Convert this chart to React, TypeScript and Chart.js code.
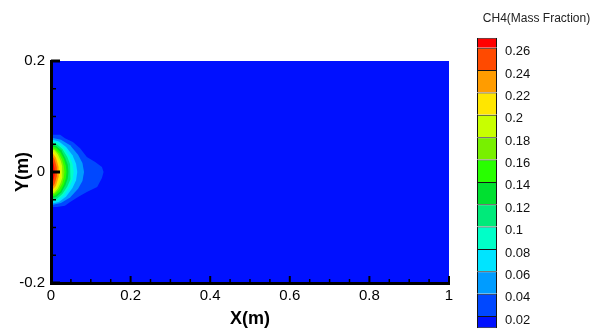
import React, { useEffect, useRef } from 'react';
import { Chart, registerables } from 'chart.js';

Chart.register(...registerables);

// ---------- data ----------
const xTickValues = [0, 0.05, 0.1, 0.15, 0.2, 0.25, 0.3, 0.35, 0.4, 0.45, 0.5, 0.55, 0.6, 0.65, 0.7, 0.75, 0.8, 0.85, 0.9, 0.95, 1];
const xLabelValues = [0, 0.2, 0.4, 0.6, 0.8, 1];
const yTickValues = [-0.2, -0.15, -0.1, -0.05, 0, 0.05, 0.1, 0.15, 0.2];
const yLabelValues = [-0.2, 0, 0.2];

// colour bar: band edges and colours (lowest band first)
const cbEdges = [0.009, 0.02, 0.04, 0.06, 0.08, 0.1, 0.12, 0.14, 0.16, 0.18, 0.2, 0.22, 0.24, 0.26, 0.269];
const cbTickValues = [0.02, 0.04, 0.06, 0.08, 0.1, 0.12, 0.14, 0.16, 0.18, 0.2, 0.22, 0.24, 0.26];
const bandColors = [
  '#0010ff', '#0048ff', '#009cff', '#00e4ff', '#00ffc8', '#00ea7a', '#00e030',
  '#28ff00', '#78f000', '#c8ff00', '#ffe600', '#ff9c00', '#ff4a00', '#ff0000',
];

// contour level boundaries (x [m], y [m])
const contourLevels = [0.02, 0.04, 0.06, 0.08, 0.1, 0.12, 0.14, 0.16, 0.18, 0.2, 0.22, 0.24, 0.26];
const c002 = [[0, 0.067], [0.023, 0.067], [0.035, 0.061], [0.055, 0.054], [0.073, 0.043], [0.09, 0.027], [0.111, 0.018], [0.128, 0.009], [0.132, 0], [0.128, -0.011], [0.116, -0.027], [0.09, -0.036], [0.068, -0.045], [0.048, -0.054], [0.035, -0.061], [0.015, -0.063], [0, -0.063]];
const c004 = [[0, 0.062], [0.025, 0.058], [0.048, 0.048], [0.068, 0.031], [0.079, 0.016], [0.083, 0], [0.079, -0.016], [0.068, -0.03], [0.048, -0.046], [0.025, -0.056], [0, -0.06]];
const c006 = [[0, 0.059], [0.02, 0.055], [0.038, 0.045], [0.054, 0.03], [0.063, 0.015], [0.066, 0], [0.063, -0.015], [0.054, -0.029], [0.038, -0.044], [0.02, -0.054], [0, -0.057]];
const c008 = [[0, 0.056], [0.017, 0.053], [0.033, 0.043], [0.047, 0.028], [0.054, 0.015], [0.057, 0], [0.054, -0.014], [0.047, -0.027], [0.033, -0.042], [0.017, -0.051], [0, -0.054]];
const c010 = [[0, 0.053], [0.015, 0.05], [0.029, 0.041], [0.041, 0.027], [0.048, 0.014], [0.05, 0], [0.048, -0.013], [0.041, -0.026], [0.029, -0.039], [0.015, -0.048], [0, -0.051]];
const c012 = [[0, 0.05], [0.013, 0.047], [0.026, 0.039], [0.036, 0.025], [0.042, 0.013], [0.044, 0], [0.042, -0.012], [0.036, -0.024], [0.026, -0.037], [0.013, -0.045], [0, -0.048]];
const c014 = [[0, 0.047], [0.012, 0.044], [0.023, 0.036], [0.032, 0.024], [0.037, 0.012], [0.039, 0], [0.037, -0.012], [0.032, -0.023], [0.023, -0.035], [0.012, -0.042], [0, -0.045]];
const c016 = [[0, 0.044], [0.01, 0.041], [0.02, 0.034], [0.028, 0.022], [0.032, 0.011], [0.034, 0], [0.032, -0.011], [0.028, -0.021], [0.02, -0.032], [0.01, -0.039], [0, -0.042]];
const c018 = [[0, 0.041], [0.009, 0.039], [0.017, 0.032], [0.024, 0.021], [0.028, 0.011], [0.029, 0], [0.028, -0.01], [0.024, -0.02], [0.017, -0.03], [0.009, -0.037], [0, -0.039]];
const c020 = [[0, 0.038], [0.0075, 0.036], [0.0145, 0.029], [0.0205, 0.019], [0.024, 0.01], [0.025, 0], [0.024, -0.009], [0.0205, -0.018], [0.0145, -0.028], [0.0075, -0.034], [0, -0.036]];
const c022 = [[0, 0.034], [0.006, 0.032], [0.012, 0.026], [0.016, 0.017], [0.019, 0.009], [0.02, 0], [0.019, -0.008], [0.016, -0.016], [0.012, -0.025], [0.006, -0.03], [0, -0.032]];
const c024 = [[0, 0.03], [0.0045, 0.028], [0.0087, 0.023], [0.012, 0.015], [0.0145, 0.008], [0.015, 0], [0.0145, -0.007], [0.012, -0.014], [0.0087, -0.022], [0.0045, -0.026], [0, -0.028]];
const c026 = [[0, 0.024], [0.0027, 0.023], [0.0052, 0.018], [0.0074, 0.012], [0.0087, 0.006], [0.009, 0], [0.0087, -0.006], [0.0074, -0.011], [0.0052, -0.017], [0.0027, -0.021], [0, -0.022]];
const contours = [c002, c004, c006, c008, c010, c012, c014, c016, c018, c020, c022, c024, c026];

// ---------- styles ----------
const SANS = "'Liberation Sans', Arial, sans-serif";
const PLOT_BG = bandColors[0];

const isIn = (v: number, list: number[]) => list.some((l) => Math.abs(l - v) < 1e-9);
const fmt = (v: number) => String(Number(v.toFixed(3)));

const plotBgPlugin = {
  id: 'plotBg',
  beforeDatasetsDraw(chart: any) {
    const { ctx, chartArea } = chart;
    ctx.save();
    ctx.fillStyle = PLOT_BG;
    ctx.fillRect(chartArea.left, chartArea.top, chartArea.right - chartArea.left, chartArea.bottom - chartArea.top);
    ctx.restore();
  },
};

const insideTicksPlugin = {
  id: 'insideTicks',
  afterDatasetsDraw(chart: any) {
    const { ctx, chartArea, scales } = chart;
    ctx.save();
    ctx.strokeStyle = '#000';
    scales.x.ticks.forEach((t: any) => {
      const px = scales.x.getPixelForValue(t.value);
      const major = isIn(t.value, xLabelValues);
      ctx.lineWidth = major ? 2 : 1.5;
      ctx.beginPath();
      ctx.moveTo(px, chartArea.bottom);
      ctx.lineTo(px, chartArea.bottom - (major ? 7 : 4));
      ctx.stroke();
    });
    scales.y.ticks.forEach((t: any) => {
      const py = scales.y.getPixelForValue(t.value);
      const major = isIn(t.value, yLabelValues);
      ctx.lineWidth = major ? 3 : 1.5;
      ctx.beginPath();
      ctx.moveTo(chartArea.left, py);
      ctx.lineTo(chartArea.left + (major ? 9 : 5), py);
      ctx.stroke();
    });
    ctx.restore();
  },
};

export default function App() {
  const mainRef = useRef<HTMLCanvasElement>(null);
  const barRef = useRef<HTMLCanvasElement>(null);

  useEffect(() => {
    const main = new Chart(mainRef.current as HTMLCanvasElement, {
      type: 'scatter',
      data: {
        datasets: contourLevels.map((lvl, i) => ({
          label: 'CH4 >= ' + lvl,
          data: contours[i].map(([x, y]) => ({ x, y })),
          showLine: true,
          fill: 'shape',
          backgroundColor: bandColors[i + 1],
          borderColor: 'transparent',
          borderWidth: 0,
          pointRadius: 0,
          tension: 0,
          order: 100 - i,
        })),
      },
      options: {
        animation: false,
        responsive: false,
        events: [],
        layout: { padding: { left: 0, top: 61, right: 11, bottom: 0 } },
        plugins: { legend: { display: false }, tooltip: { enabled: false } },
        scales: {
          x: {
            type: 'linear',
            min: 0,
            max: 1,
            afterBuildTicks: (s: any) => { s.ticks = xTickValues.map((v) => ({ value: v })); },
            afterFit: (s: any) => { s.height = 50; s.paddingLeft = 0; s.paddingRight = 0; },
            grid: { display: false, drawTicks: false },
            border: { display: true, color: '#000', width: 3, z: 1 },
            ticks: {
              autoSkip: false,
              maxRotation: 0,
              padding: 4,
              color: '#000',
              font: { family: SANS, size: 15 },
              callback: (v: any) => (isIn(Number(v), xLabelValues) ? fmt(Number(v)) : ''),
            },
            title: {
              display: true,
              text: 'X(m)',
              color: '#000',
              font: { family: SANS, size: 18, weight: 'bold' },
              padding: { top: 0, bottom: 3 },
            },
          },
          y: {
            type: 'linear',
            min: -0.2,
            max: 0.2,
            afterBuildTicks: (s: any) => { s.ticks = yTickValues.map((v) => ({ value: v })); },
            afterFit: (s: any) => { s.width = 51; s.paddingTop = 0; s.paddingBottom = 0; },
            grid: { display: false, drawTicks: false },
            border: { display: true, color: '#000', width: 3, z: 1 },
            ticks: {
              autoSkip: false,
              padding: 6,
              color: '#000',
              font: { family: SANS, size: 15 },
              callback: (v: any) => (isIn(Number(v), yLabelValues) ? fmt(Number(v)) : ''),
            },
            title: {
              display: true,
              text: 'Y(m)',
              color: '#000',
              font: { family: SANS, size: 18, weight: 'bold' },
              padding: { top: 12.5, bottom: 0 },
            },
          },
        },
      } as any,
      plugins: [plotBgPlugin, insideTicksPlugin],
    });

    const bar = new Chart(barRef.current as HTMLCanvasElement, {
      type: 'bar',
      data: {
        labels: [''],
        datasets: bandColors.map((c, i) => ({
          label: fmt(cbEdges[i]) + '-' + fmt(cbEdges[i + 1]),
          data: [[cbEdges[i], cbEdges[i + 1]]],
          backgroundColor: c,
          borderColor: '#151515',
          borderWidth: { top: 1, left: 1, right: 1, bottom: i === 0 ? 1 : 0 },
          borderSkipped: false,
          barPercentage: 1,
          categoryPercentage: 1,
          grouped: false,
          inflateAmount: 0,
        })),
      },
      options: {
        animation: false,
        responsive: false,
        events: [],
        layout: { padding: { left: 2, right: 0, top: 0, bottom: 4.7 } },
        plugins: {
          legend: { display: false },
          tooltip: { enabled: false },
          title: {
            display: true,
            text: 'CH4(Mass Fraction)',
            color: '#222',
            font: { family: SANS, size: 12, weight: 'normal' },
            padding: { top: 11.8, bottom: 11.5 },
          },
        },
        scales: {
          x: { display: false },
          y: {
            position: 'right',
            min: cbEdges[0],
            max: cbEdges[cbEdges.length - 1],
            afterBuildTicks: (s: any) => { s.ticks = cbTickValues.map((v) => ({ value: v })); },
            afterFit: (s: any) => { s.width = 99; s.paddingTop = 0; s.paddingBottom = 0; },
            grid: { display: false, drawTicks: false },
            border: { display: false },
            ticks: {
              autoSkip: false,
              padding: 8,
              labelOffset: 4,
              color: '#111',
              font: { family: SANS, size: 13 },
              callback: (v: any) => fmt(Number(v)),
            },
          },
        },
      } as any,
    });

    return () => {
      main.destroy();
      bar.destroy();
    };
  }, []);

  return (
    <div style={{ position: 'fixed', left: 0, top: 0, width: 596, height: 333, background: '#fff' }}>
      <canvas ref={mainRef} width={460} height={333} style={{ position: 'absolute', left: 0, top: 0, width: 460, height: 333 }} />
      <canvas ref={barRef} width={121} height={333} style={{ position: 'absolute', left: 475, top: 0, width: 121, height: 333 }} />
    </div>
  );
}
